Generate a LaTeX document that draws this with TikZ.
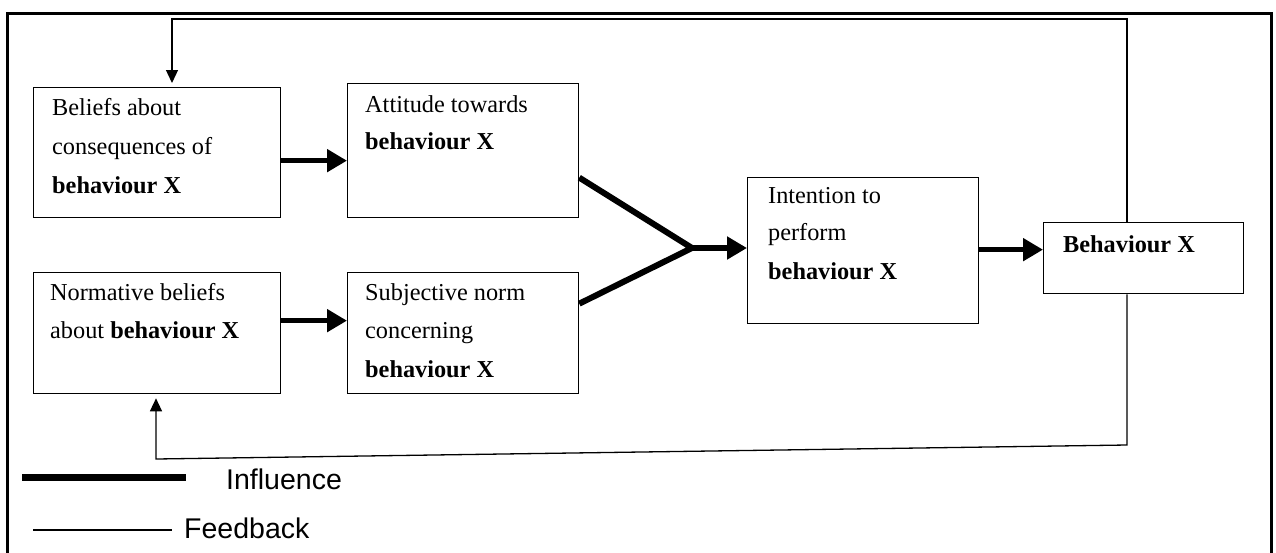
\documentclass[tikz,border=0pt]{standalone}
\usepackage{fontspec}
\setmainfont{Liberation Serif}
\newfontfamily\legendfont{Liberation Sans}
\usetikzlibrary{arrows.meta}
\begin{document}
\begin{tikzpicture}[x=1pt,y=-1pt,
  box/.style={draw, line width=1.3pt, anchor=north west, inner sep=0pt},
  txt/.style={anchor=base west, inner sep=0pt, font=\fontsize{24.3}{24}\selectfont},
  influence/.style={line width=5.5pt, -{Triangle[length=20pt,width=22pt]}},
  feedback/.style={line width=1.3pt, -{Triangle[length=13pt,width=12pt]}},
  legendtxt/.style={anchor=west, inner sep=0pt, font=\legendfont\fontsize{28.5}{28}\selectfont}]
\useasboundingbox (0,0) rectangle (1276,552);
\clip (0,0) rectangle (1276,552);
\fill[white] (0,0) rectangle (1276,552);

% outer frame (open at the bottom edge)
\draw[line width=3pt] (7,560) -- (7,13) -- (1271,13) -- (1271,560);

% boxes
\node[box, minimum width=247pt, minimum height=130pt] (b1) at (33,87) {};
\node[box, minimum width=231pt, minimum height=134pt] (b2) at (347,83) {};
\node[box, minimum width=247pt, minimum height=121pt] (b3) at (33,272) {};
\node[box, minimum width=231pt, minimum height=121pt] (b4) at (347,272) {};
\node[box, minimum width=231pt, minimum height=146pt] (b5) at (747,177) {};
\node[box, minimum width=200pt, minimum height=71pt] (b6) at (1043,222) {};

% box texts
\node[txt] (t1a) at (52,115) {Beliefs about};
\node[txt] (t1b) at (52,154) {consequences of};
\node[txt] (t1c) at (52,193) {\textbf{behaviour X}};
\node[txt] (t2a) at (365,112) {Attitude towards};
\node[txt] (t2b) at (365,149) {\textbf{behaviour X}};
\node[txt] (t3a) at (50,300) {Normative beliefs};
\node[txt] (t3b) at (50,338) {about \textbf{behaviour X}};
\node[txt] (t4a) at (365,300) {Subjective norm};
\node[txt] (t4b) at (365,338) {concerning};
\node[txt] (t4c) at (365,377) {\textbf{behaviour X}};
\node[txt] (t5a) at (768,203) {Intention to};
\node[txt] (t5b) at (768,240) {perform};
\node[txt] (t5c) at (768,279) {\textbf{behaviour X}};
\node[txt] (t6a) at (1063,252) {\textbf{Behaviour X}};

% influence arrows
\draw[influence] ([yshift=-8pt]b1.east) -- ([yshift=-8pt]b1.east -| b2.west);
\draw[influence] ([yshift=12.5pt]b3.east) -- ([yshift=12.5pt]b3.east -| b4.west);
\coordinate (j) at (692,248);
\draw[line width=6pt, line join=miter] ([yshift=-27pt]b2.east) -- (j) -- ([yshift=29.5pt]b4.east);
\draw[influence] (j) -- (j -| b5.west);
\draw[influence] ([yshift=1pt]b5.east) -- ([yshift=1pt]b5.east -| b6.west);

% feedback loops
\coordinate (fa) at (1127,19);
\coordinate (fb) at (172,19);
\coordinate (fc) at (1127,445);
\coordinate (fd) at (156,459);
\draw[feedback, shorten >=4pt] (b6.north -| fa) -- (fa) -- (fb) -- (fb |- b1.north);
\draw[feedback, shorten >=4pt] (b6.south -| fc) -- (fc) -- (fd) -- (fd |- b3.south);

% legend
\coordinate (la) at (22,477);
\coordinate (lb) at (186,477);
\coordinate (lc) at (33,530);
\coordinate (ld) at (172,530);
\draw[line width=7pt] (la) -- (lb);
\node[legendtxt] (li) at (226,479) {Influence};
\draw[line width=1.3pt] (lc) -- (ld);
\node[legendtxt] (lf) at (184,528) {Feedback};
\end{tikzpicture}
\end{document}
